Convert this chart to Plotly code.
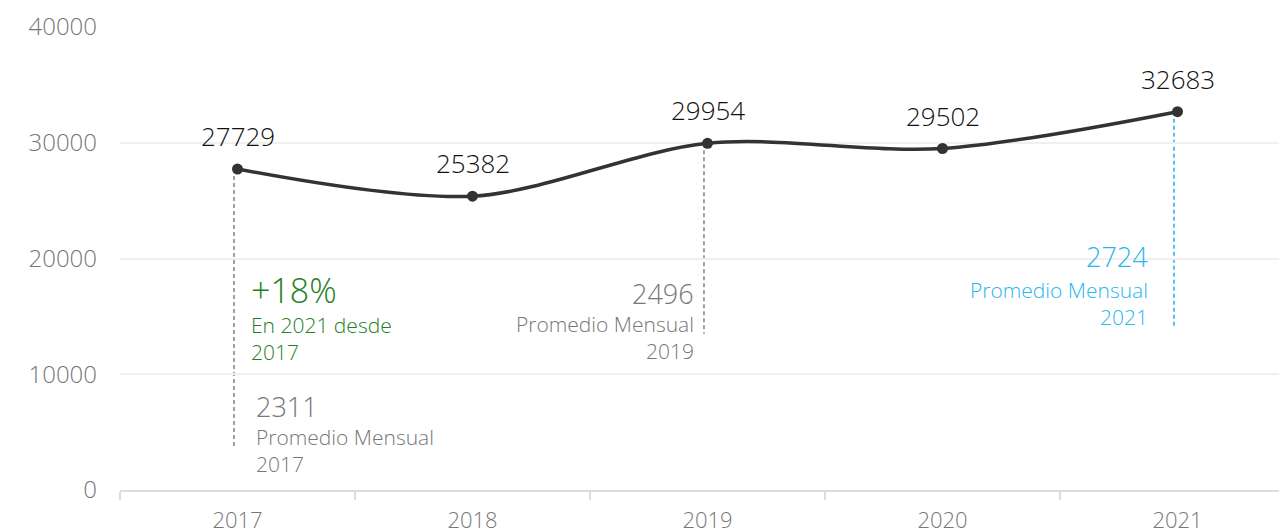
import plotly.graph_objects as go

years = ["2017", "2018", "2019", "2020", "2021"]
totals = [27729, 25382, 29954, 29502, 32683]
monthly_years = ["2017", "2019", "2021"]
monthly_avg = [2311, 2496, 2724]
growth_label = "+18%"
growth_note = "En 2021 desde<br>2017"
y_ticks = [0, 10000, 20000, 30000, 40000]

FONT = "Open Sans"
GRAY = "#777777"
GREEN = "#23801E"
BLUE = "#29B6EE"
DARK = "#333333"

fig = go.Figure()
fig.add_trace(go.Scatter(
    x=years, y=totals, mode="lines+markers",
    line=dict(color=DARK, width=3.5, shape="spline", smoothing=0.9),
    marker=dict(color=DARK, size=11),
    hoverinfo="skip", showlegend=False,
))

# data labels (category index positions)
for i, v in enumerate(totals):
    fig.add_annotation(x=i, y=v, text=str(v), showarrow=False, yshift=33,
                       font=dict(family=FONT, size=26, color="#111111", weight=300))

# dashed guide lines (shifted a few pixels left of the points)
ends = {"2017": 3600, "2019": 13500, "2021": 14000}
for yr in monthly_years:
    i = years.index(yr)
    col = BLUE if yr == "2021" else "#888888"
    fig.add_shape(type="line", xref="x", yref="y", x0=i - 0.015, x1=i - 0.015,
                  y0=totals[i], y1=ends[yr],
                  line=dict(color=col, width=1.6, dash="4px,3px"), layer="below")

# growth annotation
fig.add_annotation(x=0, y=17250, xshift=12, xanchor="left", yanchor="middle",
                   text=growth_label, showarrow=False, borderpad=0,
                   font=dict(family=FONT, size=34, color=GREEN, weight=300))
fig.add_annotation(x=0, y=13080, xshift=12, xanchor="left", yanchor="middle", align="left",
                   text=growth_note, showarrow=False, borderpad=0,
                   font=dict(family=FONT, size=21, color=GREEN, weight=300))

# monthly averages
cfg = {
    "2017": dict(anchor="left", shift=17, ynum=7200, ysub=3450, col=GRAY),
    "2019": dict(anchor="right", shift=-13, ynum=16950, ysub=13170, col=GRAY),
    "2021": dict(anchor="right", shift=-29, ynum=20150, ysub=16100, col=BLUE),
}
for yr, avg in zip(monthly_years, monthly_avg):
    c = cfg[yr]
    i = years.index(yr)
    fig.add_annotation(x=i, y=c["ynum"], xshift=c["shift"], xanchor=c["anchor"], yanchor="middle",
                       text=str(avg), showarrow=False, borderpad=0,
                       font=dict(family=FONT, size=27, color=c["col"], weight=300))
    fig.add_annotation(x=i, y=c["ysub"], xshift=c["shift"], xanchor=c["anchor"], yanchor="middle",
                       align=c["anchor"], text="Promedio Mensual<br>" + yr, showarrow=False,
                       borderpad=0,
                       font=dict(family=FONT, size=21, color=c["col"], weight=300))

fig.update_layout(
    width=1287, height=531,
    margin=dict(l=112, r=0, t=19, b=49),
    paper_bgcolor="white", plot_bgcolor="white",
    font=dict(family=FONT, color=GRAY),
)
fig.update_xaxes(
    type="category", categoryorder="array", categoryarray=years,
    range=[-0.5, 4.5], tickson="boundaries",
    showgrid=False, zeroline=False,
    showline=True, linecolor="#DDDDDD", linewidth=2,
    ticks="outside", ticklen=8, tickcolor="#DDDDDD", tickwidth=2,
    ticklabelstandoff=10,
    tickfont=dict(family=FONT, size=22, color=GRAY, weight=300),
)
fig.update_yaxes(
    range=[0, 40000], tickvals=y_ticks, ticktext=[str(t) for t in y_ticks],
    showgrid=True, gridcolor="#F0F0F0", gridwidth=1.5, zeroline=False,
    showline=False, ticks="", ticklabelstandoff=22,
    tickfont=dict(family=FONT, size=24, color=GRAY, weight=300),
)

fig.write_html("out.html")
